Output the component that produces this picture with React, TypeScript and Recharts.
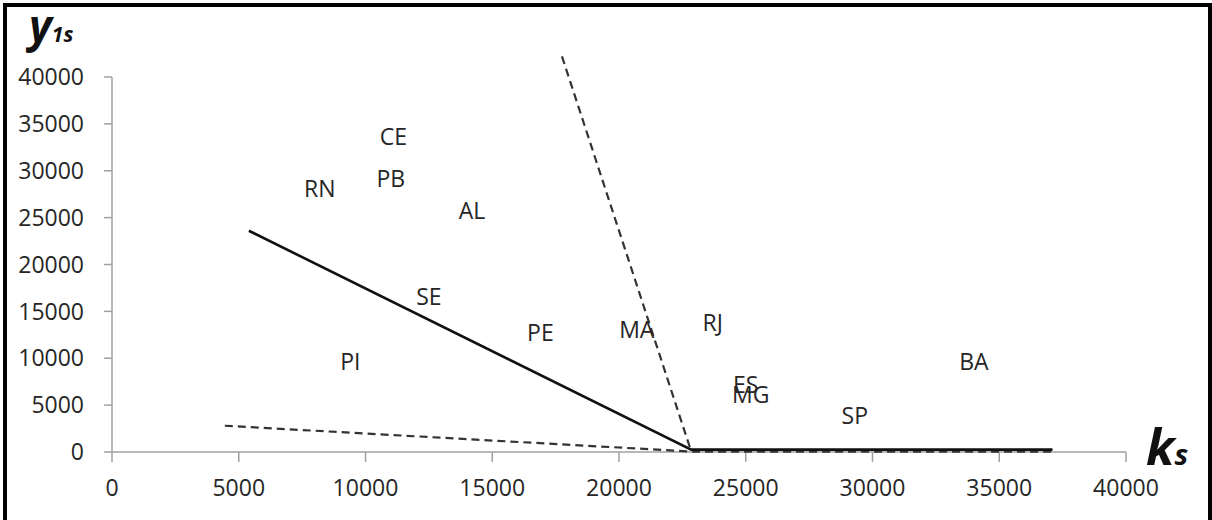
import React from "react";
import { ScatterChart, Scatter, XAxis, YAxis, ReferenceLine } from "recharts";

// state labels placed at (k_s, y_1s)
const stateCodes = ["CE", "PB", "RN", "AL", "SE", "PE", "MA", "RJ", "PI", "ES", "MG", "SP", "BA"];
const stateK = [11100, 11000, 8200, 14200, 12500, 16900, 20700, 23700, 9400, 25000, 25200, 29300, 34000];
const stateY = [33700, 29200, 28200, 25800, 16600, 12800, 13100, 13900, 9700, 7300, 6200, 3900, 9700];

// frontier lines
const solidK = [5400, 22850, 37100];
const solidY = [23600, 250, 250];
const steepK = [17750, 22850];
const steepY = [42200, 50];
const shallowK = [4450, 22850, 37100];
const shallowY = [2800, 50, 50];

const xTicks = [0, 5000, 10000, 15000, 20000, 25000, 30000, 35000, 40000];
const yTicks = [0, 5000, 10000, 15000, 20000, 25000, 30000, 35000, 40000];

const toPoints = (ks: number[], ys: number[]) => ks.map((k, i) => ({ x: k, y: ys[i] }));

const stateData = stateCodes.map((code, i) => ({ code, x: stateK[i], y: stateY[i] }));
const solidData = toPoints(solidK, solidY);
const steepData = toPoints(steepK, steepY);
const shallowData = toPoints(shallowK, shallowY);

const FONT = "'Open Sans', 'DejaVu Sans', sans-serif";
const AXIS = "#a0a0a0";
const TEXT = "#262626";

const noMarker = () => <g />;

const renderCode = (props: any) => (
    <text
        x={props.cx}
        y={props.cy}
        textAnchor="middle"
        dominantBaseline="central"
        fontFamily={FONT}
        fontSize={23}
        fill={TEXT}
    >
        {props.payload.code}
    </text>
);

const App: React.FC = () => {
    return (
        <div style={{ position: "absolute", left: 0, top: 0, width: 1212, height: 520, background: "#fff", overflow: "hidden" }}>
            <ScatterChart width={1212} height={520} margin={{ top: 53.56, right: 86, bottom: 28, left: 52 }}>
                <XAxis
                    type="number"
                    dataKey="x"
                    domain={[0, 40000]}
                    ticks={xTicks}
                    interval={0}
                    height={40}
                    stroke={AXIS}
                    strokeWidth={1.5}
                    tickSize={10}
                    tickMargin={18}
                    tick={{ fill: TEXT, fontSize: 23, fontFamily: FONT }}
                />
                <YAxis
                    type="number"
                    dataKey="y"
                    domain={[0, 42500]}
                    ticks={yTicks}
                    interval={0}
                    width={60}
                    axisLine={false}
                    stroke={AXIS}
                    strokeWidth={1.5}
                    tickSize={8}
                    tickMargin={20}
                    tick={{ fill: TEXT, fontSize: 23, fontFamily: FONT }}
                />
                <ReferenceLine
                    segment={[{ x: 0, y: 0 }, { x: 0, y: 40000 }]}
                    stroke={AXIS}
                    strokeWidth={1.5}
                    ifOverflow="visible"
                />
                <Scatter
                    data={shallowData}
                    line={{ stroke: "#333", strokeWidth: 2.2, strokeDasharray: "8 5" }}
                    shape={noMarker}
                    isAnimationActive={false}
                />
                <Scatter
                    data={steepData}
                    line={{ stroke: "#333", strokeWidth: 2.2, strokeDasharray: "8 5" }}
                    shape={noMarker}
                    isAnimationActive={false}
                />
                <Scatter
                    data={solidData}
                    line={{ stroke: "#111", strokeWidth: 2.6 }}
                    shape={noMarker}
                    isAnimationActive={false}
                />
                <Scatter data={stateData} shape={renderCode} isAnimationActive={false} />
            </ScatterChart>
            <svg width={1212} height={520} style={{ position: "absolute", left: 0, top: 0, pointerEvents: "none" }}>
                <text x={29} y={42} fontFamily={FONT} fontWeight="bold" fontStyle="italic" fontSize={44} fill="#111">
                    y<tspan fontSize={21}>1s</tspan>
                </text>
                <text x={1146} y={465} fontFamily={FONT} fontWeight="bold" fontStyle="italic" fontSize={50} fill="#111">
                    k<tspan fontSize={29}>s</tspan>
                </text>
            </svg>
            <div
                style={{
                    position: "absolute",
                    left: 3,
                    top: 3,
                    width: 1209,
                    height: 560,
                    border: "4px solid #000",
                    borderBottom: "none",
                    boxSizing: "border-box",
                    pointerEvents: "none",
                }}
            />
        </div>
    );
};

export default App;
